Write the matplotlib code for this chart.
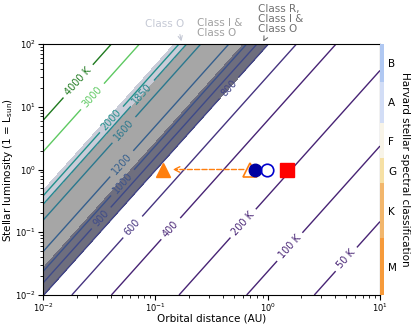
import numpy as np
import matplotlib
matplotlib.use("Agg")
import matplotlib.pyplot as plt

# equilibrium temperature: T = T0 * L^(1/4) / sqrt(d)
T0 = 255.0
levels = [50, 100, 200, 400, 600, 800, 900, 1000, 1200, 1600, 1850, 2000, 3000, 4000]
level_text = ['50 K', '100 K', '200 K', '400', '600', '800', '900', '1000', '1200',
              '1600', '1850', '2000', '3000', '4000 K']
# where the labels sit (distance AU, luminosity)
label_pos = [(5.1, 0.036), (1.58, 0.058), (0.60, 0.14), (0.141, 0.109), (0.063, 0.121),
             (0.443, 20.6), (0.033, 0.169), (0.0515, 0.61), (0.0494, 1.27),
             (0.0514, 4.42), (0.0777, 16.0), (0.0403, 6.37), (0.0279, 14.3), (0.0205, 25.7)]

# condensate classes shaded between temperatures
zone_edges = [800, 1050, 1850, 2100]
zone_colors = ['#6e6e7e', '#a6a6a6', '#c9ccd8']

# planets (distance AU, luminosity)
tri_filled = (0.118, 1.0)
tri_open = (0.69, 1.0)
circ_filled = (0.77, 1.0)
circ_open = (0.99, 1.0)
square = (1.5, 1.0)

spectral_classes = ['B', 'A', 'F', 'G', 'K', 'M']
class_bounds = [100, 25, 5.5, 1.5, 0.6, 0.08, 0.01]
class_colors = ['#b0c8f2', '#d2ddf6', '#f8f4e8', '#f6e0a4', '#f2b66c', '#f69a3a']

d = np.logspace(-2, 1, 300)
L = np.logspace(-2, 2, 300)
D, LL = np.meshgrid(d, L)
T = T0 * LL ** 0.25 / np.sqrt(D)

fig = plt.figure(figsize=(4.16, 3.25), dpi=100)
ax = fig.add_axes([43 / 416, 1 - 295 / 325, 337 / 416, 251 / 325])
ax.set_xscale('log')
ax.set_yscale('log')
ax.set_xlim(1e-2, 1e1)
ax.set_ylim(1e-2, 1e2)

ax.contourf(D, LL, T, levels=zone_edges, colors=zone_colors)

line_colors = []
for t in levels:
    if t >= 4000:
        line_colors.append('#1f7a1f')
    else:
        line_colors.append(plt.cm.viridis(max(t / 4000, 0.1)))
cs = ax.contour(D, LL, T, levels=levels, colors=line_colors, linewidths=1.0)
fmt = dict(zip(levels, level_text))
ax.clabel(cs, levels, fmt=fmt, manual=label_pos, fontsize=7, inline=True)
ax.set_xlim(1e-2, 1e1)
ax.set_ylim(1e-2, 1e2)

orange = '#ff7f0e'
ax.annotate('', xy=(0.135, 1.0), xytext=(0.65, 1.0),
            arrowprops=dict(arrowstyle='->', color=orange, linestyle='--', lw=1))
ax.plot(*tri_filled, marker='^', color=orange, markersize=10, linestyle='none')
ax.plot(*tri_open, marker='^', markerfacecolor='none', markeredgecolor=orange,
        markersize=10, markeredgewidth=1.2, linestyle='none')
ax.plot(*circ_filled, marker='o', color='#0000a0', markersize=9, linestyle='none')
ax.plot(*circ_open, marker='o', markerfacecolor='none', markeredgecolor='#0000cc',
        markersize=9, markeredgewidth=1.2, linestyle='none')
ax.plot(*square, marker='s', color='red', markersize=10, linestyle='none')

ax.tick_params(labelsize=6, pad=1.5)
ax.set_xlabel('Orbital distance (AU)', fontsize=7.5)
ax.set_ylabel('Stellar luminosity (1 = L$_{\\rm sun}$)', fontsize=7.5)
ax.xaxis.set_label_coords(0.5, -0.072)
ax.yaxis.set_label_coords(-0.082, 0.5)

# class annotations above the plot
ax.annotate('Class O', xy=(10 ** ((182 - 267.7) / 112.3), 100), xycoords='data',
            xytext=(165 / 416, 1 - 24 / 325), textcoords='figure fraction',
            color='#c5c9d5', fontsize=7.5, ha='center', va='center',
            arrowprops=dict(arrowstyle='->', color='#c5c9d5', lw=0.8,
                            relpos=(0.85, 0.0)))
fig.text(197 / 416, 1 - 28 / 325, 'Class I &\nClass O', color='#a0a0a0', fontsize=7.5,
         ha='left', va='center', linespacing=1.05)
ax.annotate('Class R,\nClass I &\nClass O', xy=(10 ** ((262 - 267.7) / 112.3), 100),
            xycoords='data', xytext=(258 / 416, 1 - 19 / 325), textcoords='figure fraction',
            color='#707070', fontsize=7.5, ha='left', va='center', linespacing=1.05,
            arrowprops=dict(arrowstyle='->', color='#707070', lw=0.8,
                            relpos=(0.2, 0.0)))

# spectral class strip
sax = fig.add_axes([380 / 416, 1 - 295 / 325, 4 / 416, 251 / 325])
sax.set_yscale('log')
sax.set_ylim(1e-2, 1e2)
sax.set_xlim(0, 1)
centers = []
for i, c in enumerate(spectral_classes):
    top, bot = class_bounds[i], class_bounds[i + 1]
    sax.axhspan(bot, top, color=class_colors[i], lw=0)
    centers.append(np.sqrt(top * bot))
sax.set_xticks([])
sax.minorticks_off()
sax.set_yticks(centers)
sax.set_yticklabels(spectral_classes)
sax.yaxis.tick_right()
sax.tick_params(axis='y', length=0, labelsize=7.5, pad=3)
for s in sax.spines.values():
    s.set_visible(False)
sax.yaxis.set_label_position('right')
sax.set_ylabel('Harvard stellar spectral classification', fontsize=7.5,
               rotation=270, labelpad=9)

fig.savefig('out.png', dpi=100)
